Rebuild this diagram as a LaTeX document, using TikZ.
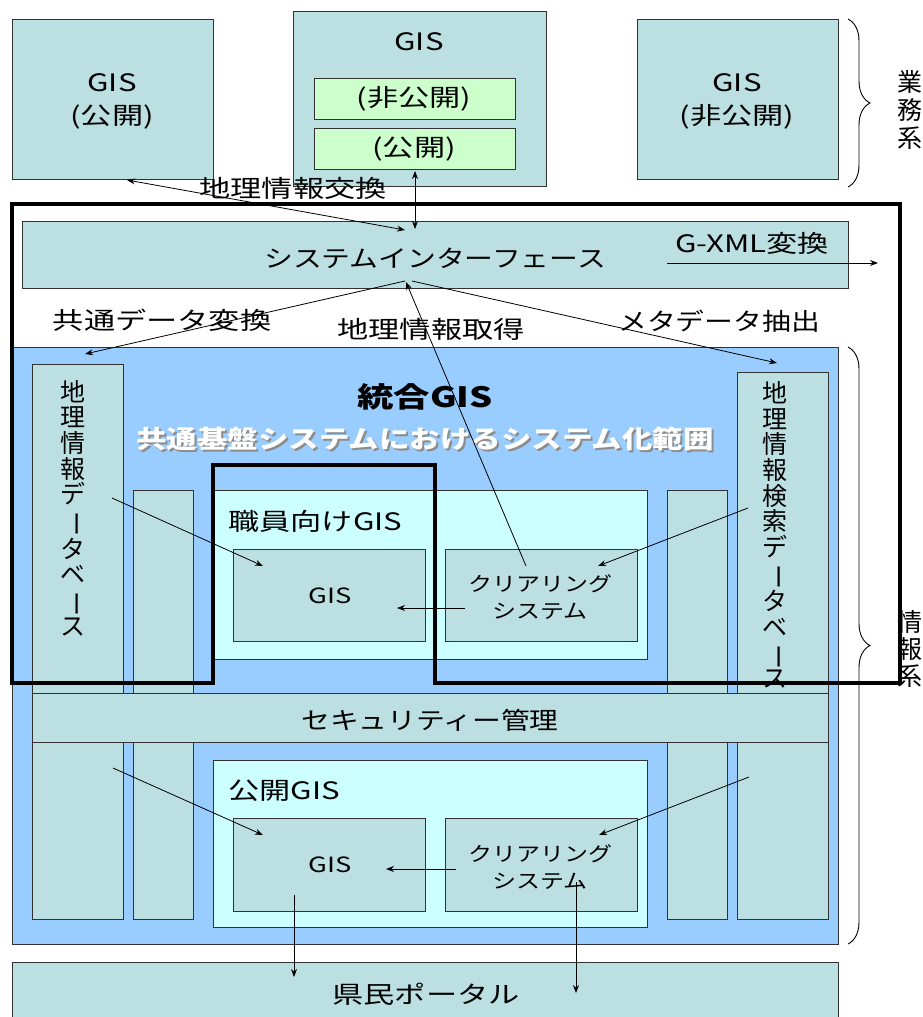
\documentclass[tikz,border=0pt]{standalone}
\usepackage{fontspec}
\usepackage{graphicx}
\usetikzlibrary{arrows.meta,decorations.pathreplacing}
\newfontfamily\jp[FakeStretch=1.3,CharacterWidth=Proportional]{Noto Sans CJK JP}
\newfontfamily\jpk[FakeStretch=1.2,CharacterWidth=Proportional]{Noto Sans CJK JP}
\newfontfamily\jpt[FakeStretch=1.22,CharacterWidth=Proportional]{Noto Sans CJK JP}
\newfontfamily\jpv{Noto Sans CJK JP}
\definecolor{teal1}{RGB}{188,223,226}
\definecolor{blue1}{RGB}{153,204,255}
\definecolor{cyan1}{RGB}{204,255,255}
\definecolor{green1}{RGB}{204,255,204}
\definecolor{edge1}{RGB}{50,50,50}
\newcommand{\vbar}{\rotatebox[origin=c]{-90}{ー}}
\tikzset{
  box/.style={draw=edge1,line width=0.9pt,fill=teal1},
  bluebox/.style={draw=edge1,line width=0.9pt,fill=blue1},
  cyanbox/.style={draw=edge1,line width=0.9pt,fill=cyan1},
  greenbox/.style={draw=edge1,line width=0.9pt,fill=green1},
  lbl/.style={inner sep=0pt,font=\jp\fontsize{24}{24}\selectfont},
  lblk/.style={inner sep=0pt,font=\jpk\fontsize{24}{24}\selectfont},
  lblm/.style={inner sep=0pt,font=\jpk\fontsize{20}{27}\selectfont,align=center},
  lbls/.style={inner sep=0pt,font=\jp\fontsize{21}{21}\selectfont},
  vtext/.style={inner sep=0pt,align=center,font=\jpv\fontsize{25}{25.7}\selectfont},
  arr/.style={line width=0.8pt,-{Stealth[length=8pt,width=6pt]}},
  darr/.style={line width=0.8pt,{Stealth[length=8pt,width=6pt]}-{Stealth[length=8pt,width=6pt]}},
  frame/.style={line width=4pt,line join=miter},
  bracestyle/.style={line width=0.9pt,decorate,decoration={brace,amplitude=22pt}}
}
\begin{document}
\begin{tikzpicture}[x=1pt,y=-1pt]
\useasboundingbox (0,0) rectangle (923,1017);
\fill[white] (0,0) rectangle (923,1017);

% ---- top systems (業務系)
\path[box] (12,19) rectangle (213,179);
\node[lbl] (tlg) at (112,83) {GIS};
\node[lbl] (tlp) at (112,117) {（公開）};

\path[box] (293,11) rectangle (546,186);
\node[lbl] (tmg) at (419,42) {GIS};
\path[greenbox] (314,78) rectangle (515,119);
\node[lbl] (tmn) at (414,99) {（非公開）};
\path[greenbox] (314,128) rectangle (515,169);
\node[lbl] (tmp) at (414,149) {（公開）};

\path[box] (637,19) rectangle (838,179);
\node[lbl] (trg) at (737,83) {GIS};
\node[lbl] (trn) at (737,117) {（非公開）};

\draw[bracestyle] (848,19) -- (848,187);
\node[vtext,font=\jpv\fontsize{25}{28}\selectfont] (gyomu) at (910,110) {業\\務\\系};

% ---- system interface
\path[box] (22,221) rectangle (848,288);
\node[lblk] (si) at (435,258) {システムインターフェース};
\node[lbl] (gxml) at (752,243) {G-XML変換};

\node[lbl] (lex) at (293,188) {地理情報交換};
\node[lbl] (lcd) at (162,320) {共通データ変換};
\node[lbl] (lacq) at (431,329) {地理情報取得};
\node[lblk] (lmd) at (719,321) {メタデータ抽出};

% ---- integrated GIS panel
\path[bluebox] (12,347) rectangle (838,944);
\draw[bracestyle] (848,347) -- (848,944);

\path[box] (32,364) rectangle (123,919);
\path[box] (133,490) rectangle (193,919);
\path[box] (667,490) rectangle (727,919);
\path[box] (737,372) rectangle (828,919);

\node[vtext] (gdb) at (73,508) {地\\理\\情\\報\\デ\\\vbar\\タ\\ベ\\\vbar\\ス};
\node[vtext] (sdb) at (775,535) {地\\理\\情\\報\\検\\索\\デ\\\vbar\\タ\\ベ\\\vbar\\ス};

\node[lbl,font=\jp\bfseries\fontsize{28}{28}\selectfont] (tgis) at (425,397) {統合GIS};
\node[lbl,font=\jpt\bfseries\fontsize{25}{25}\selectfont,text=black!45] (scopesh) at (427,441) {共通基盤システムにおけるシステム化範囲};
\node[lbl,font=\jpt\bfseries\fontsize{25}{25}\selectfont,text=white] (scope) at (425,439) {共通基盤システムにおけるシステム化範囲};

% staff GIS
\path[cyanbox] (213,490) rectangle (647,659);
\node[lbl,anchor=west] (staff) at (228,521) {職員向けGIS};
\path[box] (233,549) rectangle (425,641);
\node[lbls] (sgis) at (330,596) {GIS};
\path[box] (445,549) rectangle (637,641);
\node[lblm] (sclr) at (540,597) {クリアリング\\システム};

% security
\path[box] (32,693) rectangle (828,742);
\node[lblk] (sec) at (430,720) {セキュリティー管理};

% public GIS
\path[cyanbox] (213,760) rectangle (647,927);
\node[lbl,anchor=west] (pub) at (228,791) {公開GIS};
\path[box] (233,818) rectangle (425,911);
\node[lbls] (pgis) at (330,865) {GIS};
\path[box] (445,818) rectangle (637,911);
\node[lblm] (pclr) at (540,867) {クリアリング\\システム};

% portal
\path[box] (12,962) rectangle (838,1030);
\node[lbl] (portal) at (426,994) {県民ポータル};

% ---- connectors
\coordinate (a1) at (127,180); \coordinate (a2) at (405,230);
\draw[darr] (a1) -- (a2);
\coordinate (b1) at (415,171); \coordinate (b2) at (415,229);
\draw[darr] (b1) -- (b2);
\coordinate (c0) at (405,281); \coordinate (c1) at (85,354);
\draw[arr] (c0) -- (c1);
\coordinate (d0) at (412,281); \coordinate (d1) at (777,363);
\draw[arr] (d0) -- (d1);
\coordinate (e0) at (526,566); \coordinate (e1) at (406,282);
\draw[arr] (e0) -- (e1);
\coordinate (f0) at (667,263); \coordinate (f1) at (878,263);
\draw[arr] (f0) -- (f1);
\coordinate (g0) at (112,498); \coordinate (g1) at (263,566);
\draw[arr] (g0) -- (g1);
\coordinate (h0) at (748,508); \coordinate (h1) at (598,566);
\draw[arr] (h0) -- (h1);
\coordinate (i0) at (465,608); \coordinate (i1) at (397,608);
\draw[arr] (i0) -- (i1);
\coordinate (j0) at (113,768); \coordinate (j1) at (263,835);
\draw[arr] (j0) -- (j1);
\coordinate (k0) at (749,777); \coordinate (k1) at (599,835);
\draw[arr] (k0) -- (k1);
\coordinate (l0) at (456,869); \coordinate (l1) at (386,869);
\draw[arr] (l0) -- (l1);
\coordinate (m0) at (294,895); \coordinate (m1) at (294,977);
\draw[arr] (m0) -- (m1);
\coordinate (n0) at (576,882); \coordinate (n1) at (576,993);
\draw[arr] (n0) -- (n1);

% ---- thick frame (system scope)
\draw[frame] (12,204) -- (900,204) -- (900,683) -- (435,683) -- (435,465) -- (213,465) -- (213,683) -- (12,683) -- cycle;

\node[vtext,font=\jpv\fontsize{25}{27}\selectfont] (joho) at (910,649) {情\\報\\系};
\end{tikzpicture}
\end{document}
